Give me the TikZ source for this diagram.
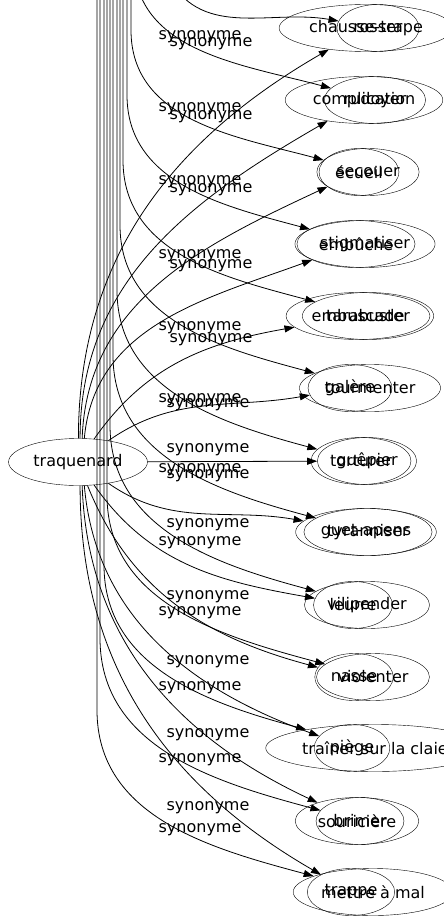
\documentclass[tikz,border=0pt]{standalone}
\usepackage{fontspec}
\setmainfont{DejaVu Sans}
\usetikzlibrary{arrows.meta,shapes.geometric}
\begin{document}
\begin{tikzpicture}[x=1pt,y=-1pt,
  word/.style={draw,ellipse,inner xsep=4.5pt,inner ysep=0pt,minimum height=47pt,font=\fontsize{16}{18}\selectfont},
  lab/.style={inner sep=0pt,font=\fontsize{16}{18}\selectfont},
  edge/.style={line width=0.8pt,-{Triangle[length=10pt,width=7pt]}},
  line/.style={line width=0.8pt}]
\useasboundingbox (0,0) rectangle (444,923);
\clip (0,0) rectangle (444,923);
% source
\node[word] (traq) at (78,462) {traquenard};
% set A
\node[word] (a1) at (366,28) {chausse-trape};
\node[word] (a2) at (364,100) {complication};
\node[word] (a3) at (359,172) {écueil};
\node[word] (a4) at (356,244) {embûche};
\node[word] (a5) at (358,316) {embuscade};
\node[word] (a6) at (350,388) {galère};
\node[word] (a7) at (367,461) {guêpier};
\node[word] (a8) at (366,532) {guet-apens};
\node[word] (a9) at (353,605) {leurre};
\node[word] (a10) at (354,677) {nasse};
\node[word] (a11) at (352,748) {piège};
\node[word] (a12) at (357,821) {souricière};
\node[word] (a13) at (351,892) {trappe};
% set B
\node[word] (b1) at (378,28) {rosser};
\node[word] (b2) at (375,100) {rudoyer};
\node[word] (b3) at (368,172) {secouer};
\node[word] (b4) at (365,244) {stigmatiser};
\node[word] (b5) at (368,316) {tarabuster};
\node[word] (b6) at (370,388) {tourmenter};
\node[word] (b7) at (361,461) {torturer};
\node[word] (b8) at (368,532) {tyranniser};
\node[word] (b9) at (367,605) {vilipender};
\node[word] (b10) at (373,677) {violenter};
\node[word] (b11) at (375,748) {traîner sur la claie};
\node[word] (b12) at (360,821) {brimer};
\node[word] (b13) at (373,892) {mettre à mal};
% labels
\foreach \n/\x/\y in {l1/200/37,l2/211/44,l3/200/109,l4/211/117,l5/200/182,l6/211/190,
  l7/200/256,l8/211/266,l9/200/328,l10/211/340,l11/200/400,l12/208/405,
  l13/208/450,l14/200/470,l15/208/476,l16/208/525,l17/200/543,l18/208/597,l19/200/613,
  l20/208/662,l21/200/688,l22/208/735,l23/200/760,l24/208/808,l25/200/830}
  \node[lab] (\n) at (\x,\y) {synonyme};
% A edges from traquenard
\draw[edge] (traq.89) to[out=90,in=210] (a1);
\draw[edge] (traq.85) to[out=90,in=210] (a2);
\draw[edge] (traq.80) to[out=88,in=205] (a3);
\draw[edge] (traq.75) to[out=85,in=200] (a4);
\draw[edge] (traq) to[out=55,in=190] (a5);
\draw[edge] (traq) to[out=35,in=190] (a6);
\draw[edge] (traq) -- (a7);
\draw[edge] (traq) to[out=-35,in=170] (a8);
\draw[edge] (traq) to[out=-55,in=170] (a9);
\draw[edge] (traq) to[out=-68,in=165] (a10);
\draw[edge] (traq.-75) to[out=-85,in=160] (a11);
\draw[edge] (traq.-80) to[out=-88,in=155] (a12);
\draw[edge] (traq.-85) to[out=-90,in=150] (a13);
% B edges coming from above
\coordinate (t1) at (170,-20);
\draw[edge] (t1) to[out=-60,in=170] (b1);
\foreach \i/\x/\yb in {2/134/-40,3/131/30,4/127/95,5/123/160,6/120/225,7/117/290,
  8/113/355,9/110/425,10/107/495,11/104/565,12/100/638,13/97/710}{
  \coordinate (t\i) at (\x,-50);
  \coordinate (k\i) at (\x,\yb);
  \draw[edge] (t\i) -- (k\i) to[out=-90,in=165] (b\i);
}
\end{tikzpicture}
\end{document}
